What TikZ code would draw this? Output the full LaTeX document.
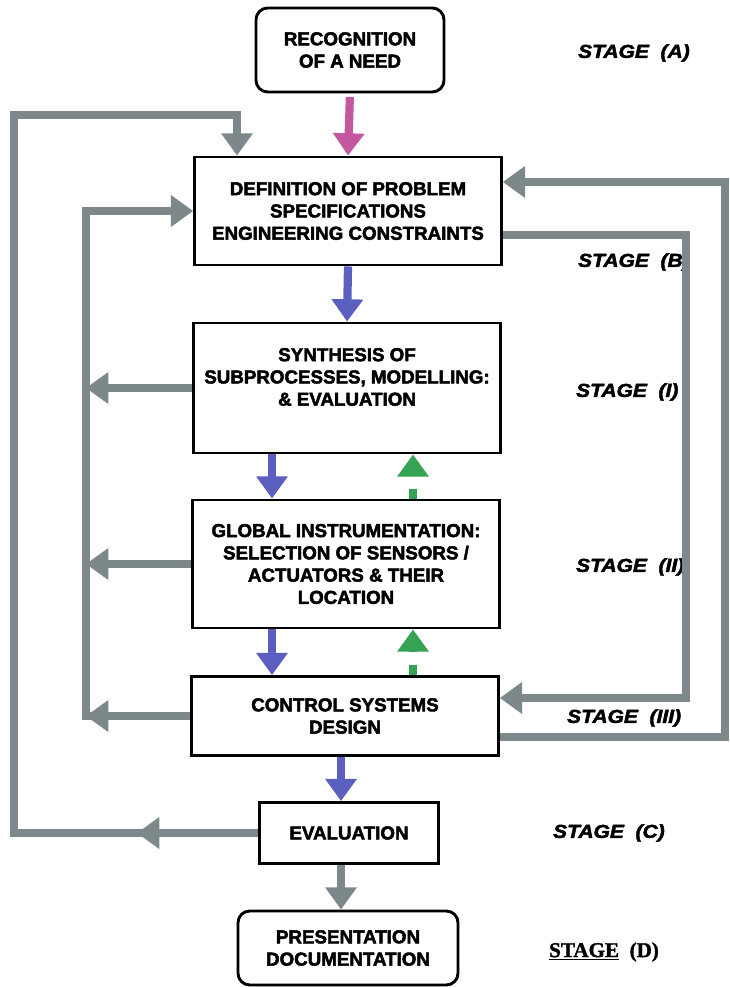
\documentclass[tikz,border=0pt]{standalone}
\usepackage{fontspec}
\setmainfont{Liberation Sans}[BoldFeatures={FakeBold=2.5}]
\newfontfamily\stagefont{Liberation Sans}[FakeStretch=1.12,BoldItalicFeatures={FakeBold=2.5}]
\newfontfamily\stageserif{Liberation Serif}[BoldFeatures={FakeBold=1.5}]
\usetikzlibrary{arrows.meta,calc}
\definecolor{loopgray}{HTML}{7D888B}
\definecolor{flowblue}{HTML}{5A5FC0}
\definecolor{flowpink}{HTML}{C4589F}
\definecolor{flowgreen}{HTML}{35A354}

\begin{document}
\begin{tikzpicture}[x=0.03cm,y=-0.03cm]
\tikzstyle{stepbox}=[draw,line width=2.5pt,minimum width=9.2cm,align=center,inner sep=2pt,font=\fontsize{16}{19}\selectfont\bfseries]
\tikzstyle{endbox}=[stepbox,rounded corners=10pt]
\tikzstyle{flow}=[line width=7pt,-{Triangle[width=26pt,length=19pt]}]
\tikzstyle{loop}=[flow,draw=loopgray,line join=miter]
\tikzstyle{stagelbl}=[anchor=west,font=\stagefont\bfseries\itshape\fontsize{16}{19}\selectfont]
\useasboundingbox (0,0) rectangle (729,988);
\node[endbox,minimum width=5.64cm,minimum height=2.52cm] (recog) at (350,50) {RECOGNITION\\OF A NEED};
\node[stepbox,minimum height=3.24cm] (defn) at (348,211) {DEFINITION OF PROBLEM\\SPECIFICATIONS\\ENGINEERING CONSTRAINTS};
\node[stepbox,minimum height=3.9cm] (synth) at (347,388) {SYNTHESIS OF\\SUBPROCESSES, MODELLING:\\\& EVALUATION\\\mbox{}};
\node[stepbox,minimum height=3.84cm] (instr) at (346,564) {GLOBAL INSTRUMENTATION:\\SELECTION OF SENSORS /\\ACTUATORS \& THEIR\\LOCATION};
\node[stepbox,minimum height=2.37cm] (ctrl) at (345,716) {CONTROL SYSTEMS\\DESIGN};
\node[stepbox,minimum width=5.37cm,minimum height=1.83cm] (evalu) at (349,833) {EVALUATION};
\node[endbox,minimum width=6.6cm,minimum height=2.22cm] (present) at (348,948) {PRESENTATION\\DOCUMENTATION};
\node[stagelbl] (stA) at (574,53) {STAGE\ \ (A)};
\node[stagelbl] (stB) at (574,262) {STAGE\ \ (B)};
\node[stagelbl] (stI) at (572,392) {STAGE\ \ (I)};
\node[stagelbl] (stII) at (572,567) {STAGE\ \ (II)};
\node[stagelbl] (stIII) at (563,718) {STAGE\ \ (III)};
\node[stagelbl] (stC) at (549,833) {STAGE\ \ (C)};
\node[anchor=west,font=\stageserif\bfseries\fontsize{18}{21}\selectfont] (stD) at (545,952) {\underline{STAGE}\ \ (D)};
\coordinate (colL) at (272,0);
\coordinate (colR) at (413,0);
\coordinate (colM) at (341,0);
\coordinate (outL) at (14,0);
\coordinate (inL) at (86,0);
\coordinate (inR) at (686,0);
\coordinate (outR) at (725,0);
\coordinate (topL) at (237,115);
\coordinate (evmid) at (137,833);
\coordinate (defR) at ($(defn.east)+(0,24)$);
\coordinate (defR2) at ($(defn.east)+(0,-29)$);
\coordinate (ctrlR) at ($(ctrl.east)+(0,-18)$);
\coordinate (ctrlR2) at ($(ctrl.east)+(0,21)$);
\draw[flow,draw=flowpink,shorten <=3pt] (recog.south) -- (defn.north);
\draw[flow,draw=flowblue] (defn.south) -- (synth.north);
\draw[flow,draw=flowblue] (synth.south -| colL) -- (instr.north -| colL);
\draw[flow,draw=flowblue] (instr.south -| colL) -- (ctrl.north -| colL);
\draw[flow,draw=flowblue] (ctrl.south -| colM) -- (evalu.north -| colM);
\draw[flow,draw=flowgreen,dash pattern=on 8.5pt off 11pt] (instr.north -| colR) -- (synth.south -| colR);
\draw[flow,draw=flowgreen,dash pattern=on 8.5pt off 11pt] (ctrl.north -| colR) -- (instr.south -| colR);
\draw[loop] (evalu.south -| colM) -- (present.north -| colM);
\draw[loop] (evalu.west) -- (evalu.west -| outL) |- (topL) -- (topL |- defn.north);
\draw[loop] (evalu.west) -- (evmid);
\draw[loop] (ctrl.west) -- (ctrl.west -| inL) -- (inL |- defn.west) -- (defn.west);
\draw[loop] (synth.west) -- (synth.west -| inL);
\draw[loop] (instr.west) -- (instr.west -| inL);
\draw[loop] (ctrl.west) -- (ctrl.west -| inL);
\draw[loop] (defR) -- (defR -| inR) -- (inR |- ctrlR) -- (ctrlR);
\draw[loop] (ctrlR2) -- (ctrlR2 -| outR) -- (outR |- defR2) -- (defR2);
\end{tikzpicture}
\end{document}
